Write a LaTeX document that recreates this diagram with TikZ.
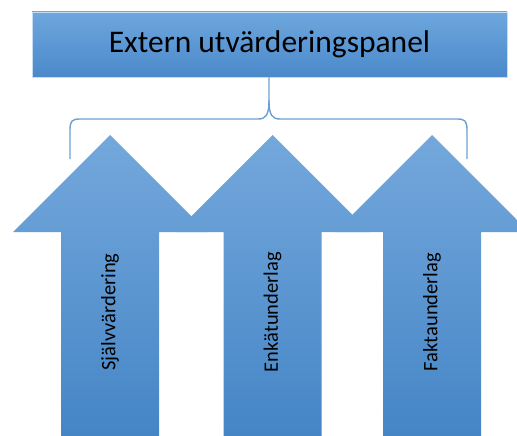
\documentclass[tikz,border=0pt]{standalone}
\usepackage{fontspec}
\setmainfont{Carlito}
\definecolor{arrtop}{HTML}{74A8DC}
\definecolor{arrbot}{HTML}{4585C6}
\definecolor{boxtop}{HTML}{6EA7DE}
\definecolor{boxbot}{HTML}{4A89CA}
\definecolor{bracecol}{HTML}{6D9FD2}
\begin{document}
\begin{tikzpicture}[x=1pt,y=-1pt,
  arrowshape/.style={top color=arrtop, bottom color=arrbot, draw=none},
  lbl/.style={rotate=90, font=\fontsize{20.5}{24}\selectfont, text=black},
  panelbox/.style={top color=boxtop, bottom color=boxbot, draw=boxtop!40!white, line width=0.6pt,
     minimum width=475pt, minimum height=65pt, inner sep=0pt, font=\fontsize{31.5}{36}\selectfont}]
\useasboundingbox (0,0) rectangle (517,436);
\clip (0,0) rectangle (517,436);
\foreach \cx in {110,272.5,432}{
  \shade[arrowshape] (\cx,135) -- (\cx+97,232) -- (\cx+49,232) -- (\cx+49,436) -- (\cx-49,436) -- (\cx-49,232) -- (\cx-97,232) -- cycle;
}
\node[panelbox] (panel) at (269.5,44.5) {Extern utvärderingspanel};
\node[lbl] (s1) at (110,312) {Självvärdering};
\node[lbl] (s2) at (272.5,312) {Enkätunderlag};
\node[lbl] (s3) at (432,312) {Faktaunderlag};
\coordinate (bl) at (70,159);
\coordinate (br) at (467,159);
\draw[bracecol, line width=1.4pt] (bl) -- (70,130) .. controls (70,121) and (72,119) .. (80,119) -- (258,119) .. controls (266,119) and (269,115) .. (269,100) -- (panel.south -| 269,0);
\draw[bracecol, line width=1.4pt] (br) -- (467,130) .. controls (467,121) and (465,119) .. (457,119) -- (280,119) .. controls (272,119) and (269,115) .. (269,100);
\end{tikzpicture}
\end{document}
